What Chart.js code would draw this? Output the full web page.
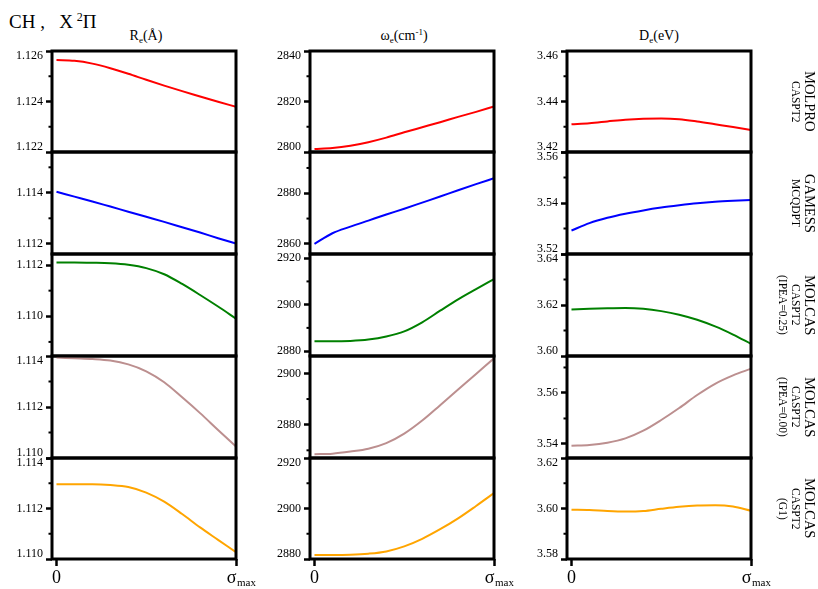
<!DOCTYPE html>
<html>
<head>
<meta charset="utf-8">
<script src="https://cdn.jsdelivr.net/npm/chart.js@4.4.0/dist/chart.umd.min.js"></script>
<style>
body { margin: 0; background: #fff; width: 818px; height: 589px; overflow: hidden; position: relative; font-family: 'Liberation Serif', serif; color: #000; }
canvas { position: absolute; }
.main { position: absolute; left: 9px; top: 11px; font-size: 19px; line-height: 22px; white-space: nowrap; }
.main sup { font-size: 12px; line-height: 0; vertical-align: 7px; }
.ttl { position: absolute; top: 28px; width: 184px; text-align: center; font-size: 14px; line-height: 16px; white-space: nowrap; }
.ttl sub { font-size: 9px; line-height: 0; vertical-align: -3px; }
.ttl sup { font-size: 9px; line-height: 0; vertical-align: 5px; }
.side { position: absolute; left: 758px; width: 60px; writing-mode: vertical-rl; text-align: center; white-space: nowrap; }
.side .a { font-size: 14.5px; line-height: 16px; }
.side .b { font-size: 11.5px; line-height: 13px; }
</style>
</head>
<body>
<div class="main">CH ,&nbsp;&nbsp; X&#8201;<sup>2</sup>Π</div>
<div class="ttl" style="left:54px">R<sub>e</sub>(Å)</div>
<div class="ttl" style="left:312px">ω<sub>e</sub>(cm<sup>-1</sup>)</div>
<div class="ttl" style="left:567px">D<sub>e</sub>(eV)</div>
<script>
// sigma grid (0 .. sigma_max)
const sigma = [0, 0.1, 0.2, 0.3, 0.4, 0.5, 0.6, 0.7, 0.8, 0.9, 1];
const xTickValues = [0, 1];
const xTickLabels = ['0', 'σ\u2002'];

const rowLabels = [
    ['MOLPRO', 'CASPT2'],
    ['GAMESS', 'MCQDPT'],
    ['MOLCAS', 'CASPT2', '(IPEA=0.25)'],
    ['MOLCAS', 'CASPT2', '(IPEA=0.00)'],
    ['MOLCAS', 'CASPT2', '(G1)'],
];
const lineColors = ['#ff0000', '#0000ff', '#008000', '#bc8f8f', '#ffa500'];

// R_e (Angstrom)
const reMolpro = [1.12564, 1.12561, 1.12550, 1.12532, 1.12510, 1.12486, 1.12463, 1.12441, 1.12420, 1.12399, 1.12379];
const reGamess = [1.11404, 1.11385, 1.11366, 1.11346, 1.11326, 1.11306, 1.11286, 1.11265, 1.11244, 1.11222, 1.11201];
const reIpea25 = [1.11210, 1.11210, 1.11209, 1.11207, 1.11201, 1.11188, 1.11164, 1.11126, 1.11083, 1.11038, 1.10991];
const reIpea00 = [1.11394, 1.11391, 1.11388, 1.11382, 1.11367, 1.11340, 1.11297, 1.11238, 1.11176, 1.11110, 1.11045];
const reG1 = [1.11296, 1.11296, 1.11296, 1.11293, 1.11285, 1.11263, 1.11227, 1.11178, 1.11125, 1.11076, 1.11027];

// omega_e (cm-1)
const weMolpro = [2801.2, 2801.6, 2802.5, 2803.9, 2805.7, 2807.8, 2809.8, 2811.8, 2813.9, 2815.9, 2818.0];
const weGamess = [2860.0, 2864.2, 2866.8, 2869.2, 2871.6, 2873.9, 2876.3, 2878.7, 2881.2, 2883.6, 2885.9];
const weIpea25 = [2884.2, 2884.2, 2884.4, 2885.0, 2886.3, 2888.5, 2892.4, 2897.4, 2902.3, 2906.7, 2911.0];
const weIpea00 = [2868.5, 2868.7, 2869.5, 2870.6, 2872.8, 2876.5, 2881.6, 2887.6, 2893.7, 2899.8, 2905.9];
const weG1 = [2881.6, 2881.6, 2881.7, 2882.1, 2883.0, 2885.0, 2888.0, 2891.8, 2896.1, 2901.0, 2906.1];

// D_e (eV)
const deMolpro = [3.4310, 3.4314, 3.4321, 3.4328, 3.4332, 3.4333, 3.4330, 3.4321, 3.4310, 3.4299, 3.4287];
const deGamess = [3.5292, 3.5321, 3.5342, 3.5358, 3.5371, 3.5382, 3.5391, 3.5399, 3.5405, 3.5409, 3.5412];
const deIpea25 = [3.6182, 3.6185, 3.6187, 3.6188, 3.6185, 3.6176, 3.6162, 3.6142, 3.6116, 3.6084, 3.6048];
const deIpea00 = [3.5393, 3.5396, 3.5405, 3.5422, 3.5452, 3.5494, 3.5541, 3.5592, 3.5636, 3.5669, 3.5695];
const deG1 = [3.5995, 3.5994, 3.5990, 3.5988, 3.5990, 3.5999, 3.6007, 3.6012, 3.6013, 3.6008, 3.5991];

// y ranges of each panel
const reRanges = [[1.122, 1.126], [1.1116, 1.1156], [1.10845, 1.11243], [1.110, 1.114], [1.110, 1.114]];
const weRanges = [[2800, 2840], [2856, 2896.3], [2877.9, 2921.8], [2867, 2906.8], [2880, 2920]];
const deRanges = [[3.42, 3.46], [3.52, 3.56], [3.60, 3.64], [3.5345, 3.5745], [3.58, 3.62]];

const columns = [
    { series: [reMolpro, reGamess, reIpea25, reIpea00, reG1], ranges: reRanges, minor: 0.001, dec: 3 },
    { series: [weMolpro, weGamess, weIpea25, weIpea00, weG1], ranges: weRanges, minor: 10, dec: 0 },
    { series: [deMolpro, deGamess, deIpea25, deIpea00, deG1], ranges: deRanges, minor: 0.01, dec: 2 },
];

const colLefts = [52, 310, 567];
const rowTops = [51, 152, 254, 356, 458];
const rowHeights = [101, 102, 102, 102, 101];
const FRAME_W = 184;
const AXIS_W = 50;
const PAD = 10;
const PAD_R = 22;
const X_AXIS_H = 32;
const X_MIN = -0.025;
const FONT = 'Liberation Serif';

function make_panel(r, c) {
    const col = columns[c];
    const yMin = col.ranges[r][0], yMax = col.ranges[r][1];
    const bottom = r === 4;
    const cv = document.createElement('canvas');
    cv.width = AXIS_W + FRAME_W + PAD_R;
    cv.height = PAD + rowHeights[r] + (bottom ? X_AXIS_H : PAD);
    cv.style.left = (colLefts[c] - AXIS_W) + 'px';
    cv.style.top = (rowTops[r] - PAD) + 'px';
    document.body.appendChild(cv);

    let major = [], minor = [];
    let kMin = Math.ceil(yMin / col.minor - 1e-6), kMax = Math.floor(yMax / col.minor + 1e-6);
    for (let k = kMin; k <= kMax; k++) {
        let v = parseFloat((k * col.minor).toFixed(6));
        if (k % 2 === 0) major.push(v); else minor.push(v);
    }

    let framePlugin = {
        id: 'frame' + r + c,
        afterDraw(chart) {
            let ctx = chart.ctx, a = chart.chartArea, ys = chart.scales.y;
            ctx.save();
            ctx.strokeStyle = '#000';
            ctx.lineWidth = 2;
            minor.forEach(v => {
                let py = ys.getPixelForValue(v);
                ctx.beginPath();
                ctx.moveTo(a.left - 3.5, py);
                ctx.lineTo(a.left, py);
                ctx.stroke();
            });
            ctx.lineWidth = 3;
            ctx.strokeRect(a.left, a.top, a.right - a.left, a.bottom - a.top);
            if (bottom) {
                let px = chart.scales.x.getPixelForValue(1);
                ctx.fillStyle = '#000';
                ctx.font = '11px "' + FONT + '"';
                ctx.textAlign = 'left';
                ctx.textBaseline = 'alphabetic';
                ctx.fillText('max', px + 1, a.bottom + 27);
            }
            ctx.restore();
        }
    };

    new Chart(cv, {
        type: 'line',
        data: {
            datasets: [{
                data: sigma.map((x, i) => ({ x: x, y: col.series[r][i] })),
                borderColor: lineColors[r],
                borderWidth: 2,
                pointRadius: 0,
                cubicInterpolationMode: 'monotone',
                fill: false,
            }],
        },
        options: {
            responsive: false,
            animation: false,
            layout: { padding: { left: 0, right: PAD_R, top: PAD, bottom: bottom ? 0 : PAD } },
            plugins: { legend: { display: false }, tooltip: { enabled: false } },
            scales: {
                x: {
                    type: 'linear',
                    min: X_MIN,
                    max: 1,
                    display: bottom,
                    afterBuildTicks: s => { s.ticks = xTickValues.map(v => ({ value: v })); },
                    afterFit: s => {
                        s.height = bottom ? X_AXIS_H : 0;
                        s.paddingLeft = 0;
                        s.paddingRight = 0;
                    },
                    grid: { drawOnChartArea: false, drawTicks: true, tickLength: 7, tickWidth: 2.5, tickColor: '#000' },
                    border: { display: false },
                    ticks: {
                        font: { family: FONT, size: 18 },
                        color: '#000',
                        padding: 1,
                        maxRotation: 0,
                        autoSkip: false,
                        callback: v => xTickLabels[xTickValues.indexOf(v)],
                    },
                },
                y: {
                    type: 'linear',
                    min: yMin,
                    max: yMax,
                    afterBuildTicks: s => { s.ticks = major.map(v => ({ value: v })); },
                    afterFit: s => { s.width = AXIS_W; s.paddingTop = 0; s.paddingBottom = 0; },
                    grid: { drawOnChartArea: false, drawTicks: true, tickLength: 6, tickWidth: 2.5, tickColor: '#000' },
                    border: { display: false },
                    ticks: {
                        font: { family: FONT, size: 12, lineHeight: 0.8 },
                        color: '#000',
                        padding: 3,
                        autoSkip: false,
                        callback: function (v) {
                            let t = v.toFixed(col.dec);
                            if (Math.abs(v - yMax) < 1e-7) return ['', t];
                            if (Math.abs(v - yMin) < 1e-7) return [t, ''];
                            return t;
                        },
                    },
                },
            },
        },
        plugins: [framePlugin],
    });
}

for (let r = 0; r < 5; r++) {
    for (let c = 0; c < 3; c++) make_panel(r, c);
    let side = document.createElement('div');
    side.className = 'side';
    side.style.top = rowTops[r] + 'px';
    side.style.height = rowHeights[r] + 'px';
    side.innerHTML = rowLabels[r].map((t, i) => `<div class='${i === 0 ? 'a' : 'b'}'>${t}</div>`).join('');
    document.body.appendChild(side);
}
</script>
</body>
</html>
